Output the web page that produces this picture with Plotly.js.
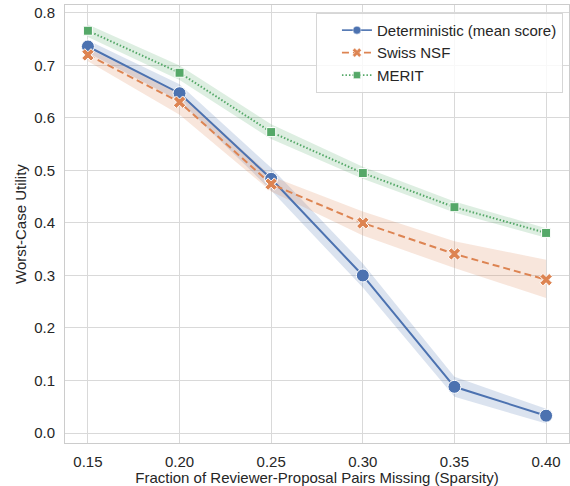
<!DOCTYPE html>
<html>
<head>
<meta charset="utf-8">
<script src="https://cdn.plot.ly/plotly-3.0.1.min.js"></script>
<style>html,body{margin:0;padding:0;background:#fff;}#chart{width:570px;height:486px;}</style>
</head>
<body>
<div id="chart"></div>
<script>
const sparsity = [0.15, 0.20, 0.25, 0.30, 0.35, 0.40];

const detMean  = [0.736, 0.647, 0.484, 0.300, 0.088, 0.033];
const detLow   = [0.724, 0.632, 0.462, 0.277, 0.069, 0.018];
const detHigh  = [0.748, 0.664, 0.505, 0.323, 0.107, 0.046];

const nsfMean  = [0.720, 0.630, 0.474, 0.400, 0.341, 0.292];
const nsfLow   = [0.708, 0.606, 0.460, 0.376, 0.314, 0.257];
const nsfHigh  = [0.732, 0.648, 0.489, 0.422, 0.365, 0.330];

const meritMean = [0.766, 0.686, 0.573, 0.495, 0.430, 0.381];
const meritLow  = [0.754, 0.672, 0.560, 0.484, 0.420, 0.372];
const meritHigh = [0.778, 0.700, 0.588, 0.507, 0.441, 0.390];

const seriesNames = ['Deterministic (mean score)', 'Swiss NSF', 'MERIT'];
const xTicks = [0.15, 0.20, 0.25, 0.30, 0.35, 0.40];
const xTickText = ['0.15', '0.20', '0.25', '0.30', '0.35', '0.40'];
const yTicks = [0.0, 0.1, 0.2, 0.3, 0.4, 0.5, 0.6, 0.7, 0.8];
const yTickText = ['0.0', '0.1', '0.2', '0.3', '0.4', '0.5', '0.6', '0.7', '0.8'];

const colors = ['#4c72b0', '#dd8452', '#55a868'];
const bandColors = ['rgba(76,114,176,0.2)', 'rgba(221,132,82,0.2)', 'rgba(85,168,104,0.2)'];
const dashes = ['solid', '7px,4px', '1.5px,2px'];
const symbols = ['circle', 'x', 'square'];
const sizes = [13, 11, 9];
const legendSizes = [8, 8, 7];

function band(low, high, color) {
  return {
    x: sparsity.concat(sparsity.slice().reverse()),
    y: high.concat(low.slice().reverse()),
    fill: 'toself', fillcolor: color, mode: 'lines',
    line: {width: 0, color: 'rgba(0,0,0,0)'},
    showlegend: false, hoverinfo: 'skip', type: 'scatter'
  };
}

const means = [detMean, nsfMean, meritMean];
const traces = [
  band(detLow, detHigh, bandColors[0]),
  band(nsfLow, nsfHigh, bandColors[1]),
  band(meritLow, meritHigh, bandColors[2])
];
means.forEach((m, i) => {
  traces.push({x: sparsity, y: m, name: seriesNames[i], type: 'scatter', mode: 'lines+markers',
    showlegend: false,
    line: {color: colors[i], width: 2, dash: dashes[i]},
    marker: {symbol: symbols[i], size: sizes[i], color: colors[i], line: {color: '#fff', width: 1}}});
});
// legend-only entries (no data points drawn)
means.forEach((m, i) => {
  traces.push({x: [null], y: [null], name: seriesNames[i], type: 'scatter', mode: 'lines+markers',
    showlegend: true,
    line: {color: colors[i], width: 1.6, dash: dashes[i]},
    marker: {symbol: symbols[i], size: legendSizes[i], color: colors[i], line: {color: '#fff', width: 0.5}}});
});

const font = {family: 'Liberation Sans, Arial, sans-serif', size: 15, color: '#262626'};

const layout = {
  width: 570, height: 486,
  margin: {l: 65, r: 1, t: 5, b: 43},
  paper_bgcolor: '#fff', plot_bgcolor: '#fff',
  font: font,
  showlegend: true,
  legend: {x: 0.988, y: 0.982, xanchor: 'right', yanchor: 'top',
    indentation: 20,
    bgcolor: 'rgba(255,255,255,0.8)', bordercolor: '#d6d6d6', borderwidth: 1,
    font: {family: font.family, size: 15, color: '#262626'}},
  xaxis: {
    range: [0.1375, 0.4125], tickvals: xTicks, ticktext: xTickText,
    showgrid: true, gridcolor: '#d9d9d9', gridwidth: 1, zeroline: false,
    showline: true, linecolor: '#cccccc', linewidth: 1, mirror: true,
    ticks: 'outside', ticklen: 5, tickcolor: 'rgba(0,0,0,0)',
    title: {text: 'Fraction of Reviewer-Proposal Pairs Missing (Sparsity)', font: {size: 15}, standoff: 2}
  },
  yaxis: {
    range: [-0.019, 0.815], tickvals: yTicks, ticktext: yTickText,
    showgrid: true, gridcolor: '#d9d9d9', gridwidth: 1, zeroline: false,
    showline: true, linecolor: '#cccccc', linewidth: 1, mirror: true,
    ticks: 'outside', ticklen: 6, tickcolor: 'rgba(0,0,0,0)',
    title: {text: 'Worst-Case Utility', font: {size: 15}, standoff: 3}
  }
};

Plotly.newPlot('chart', traces, layout, {displayModeBar: false, staticPlot: true});
</script>
</body>
</html>
